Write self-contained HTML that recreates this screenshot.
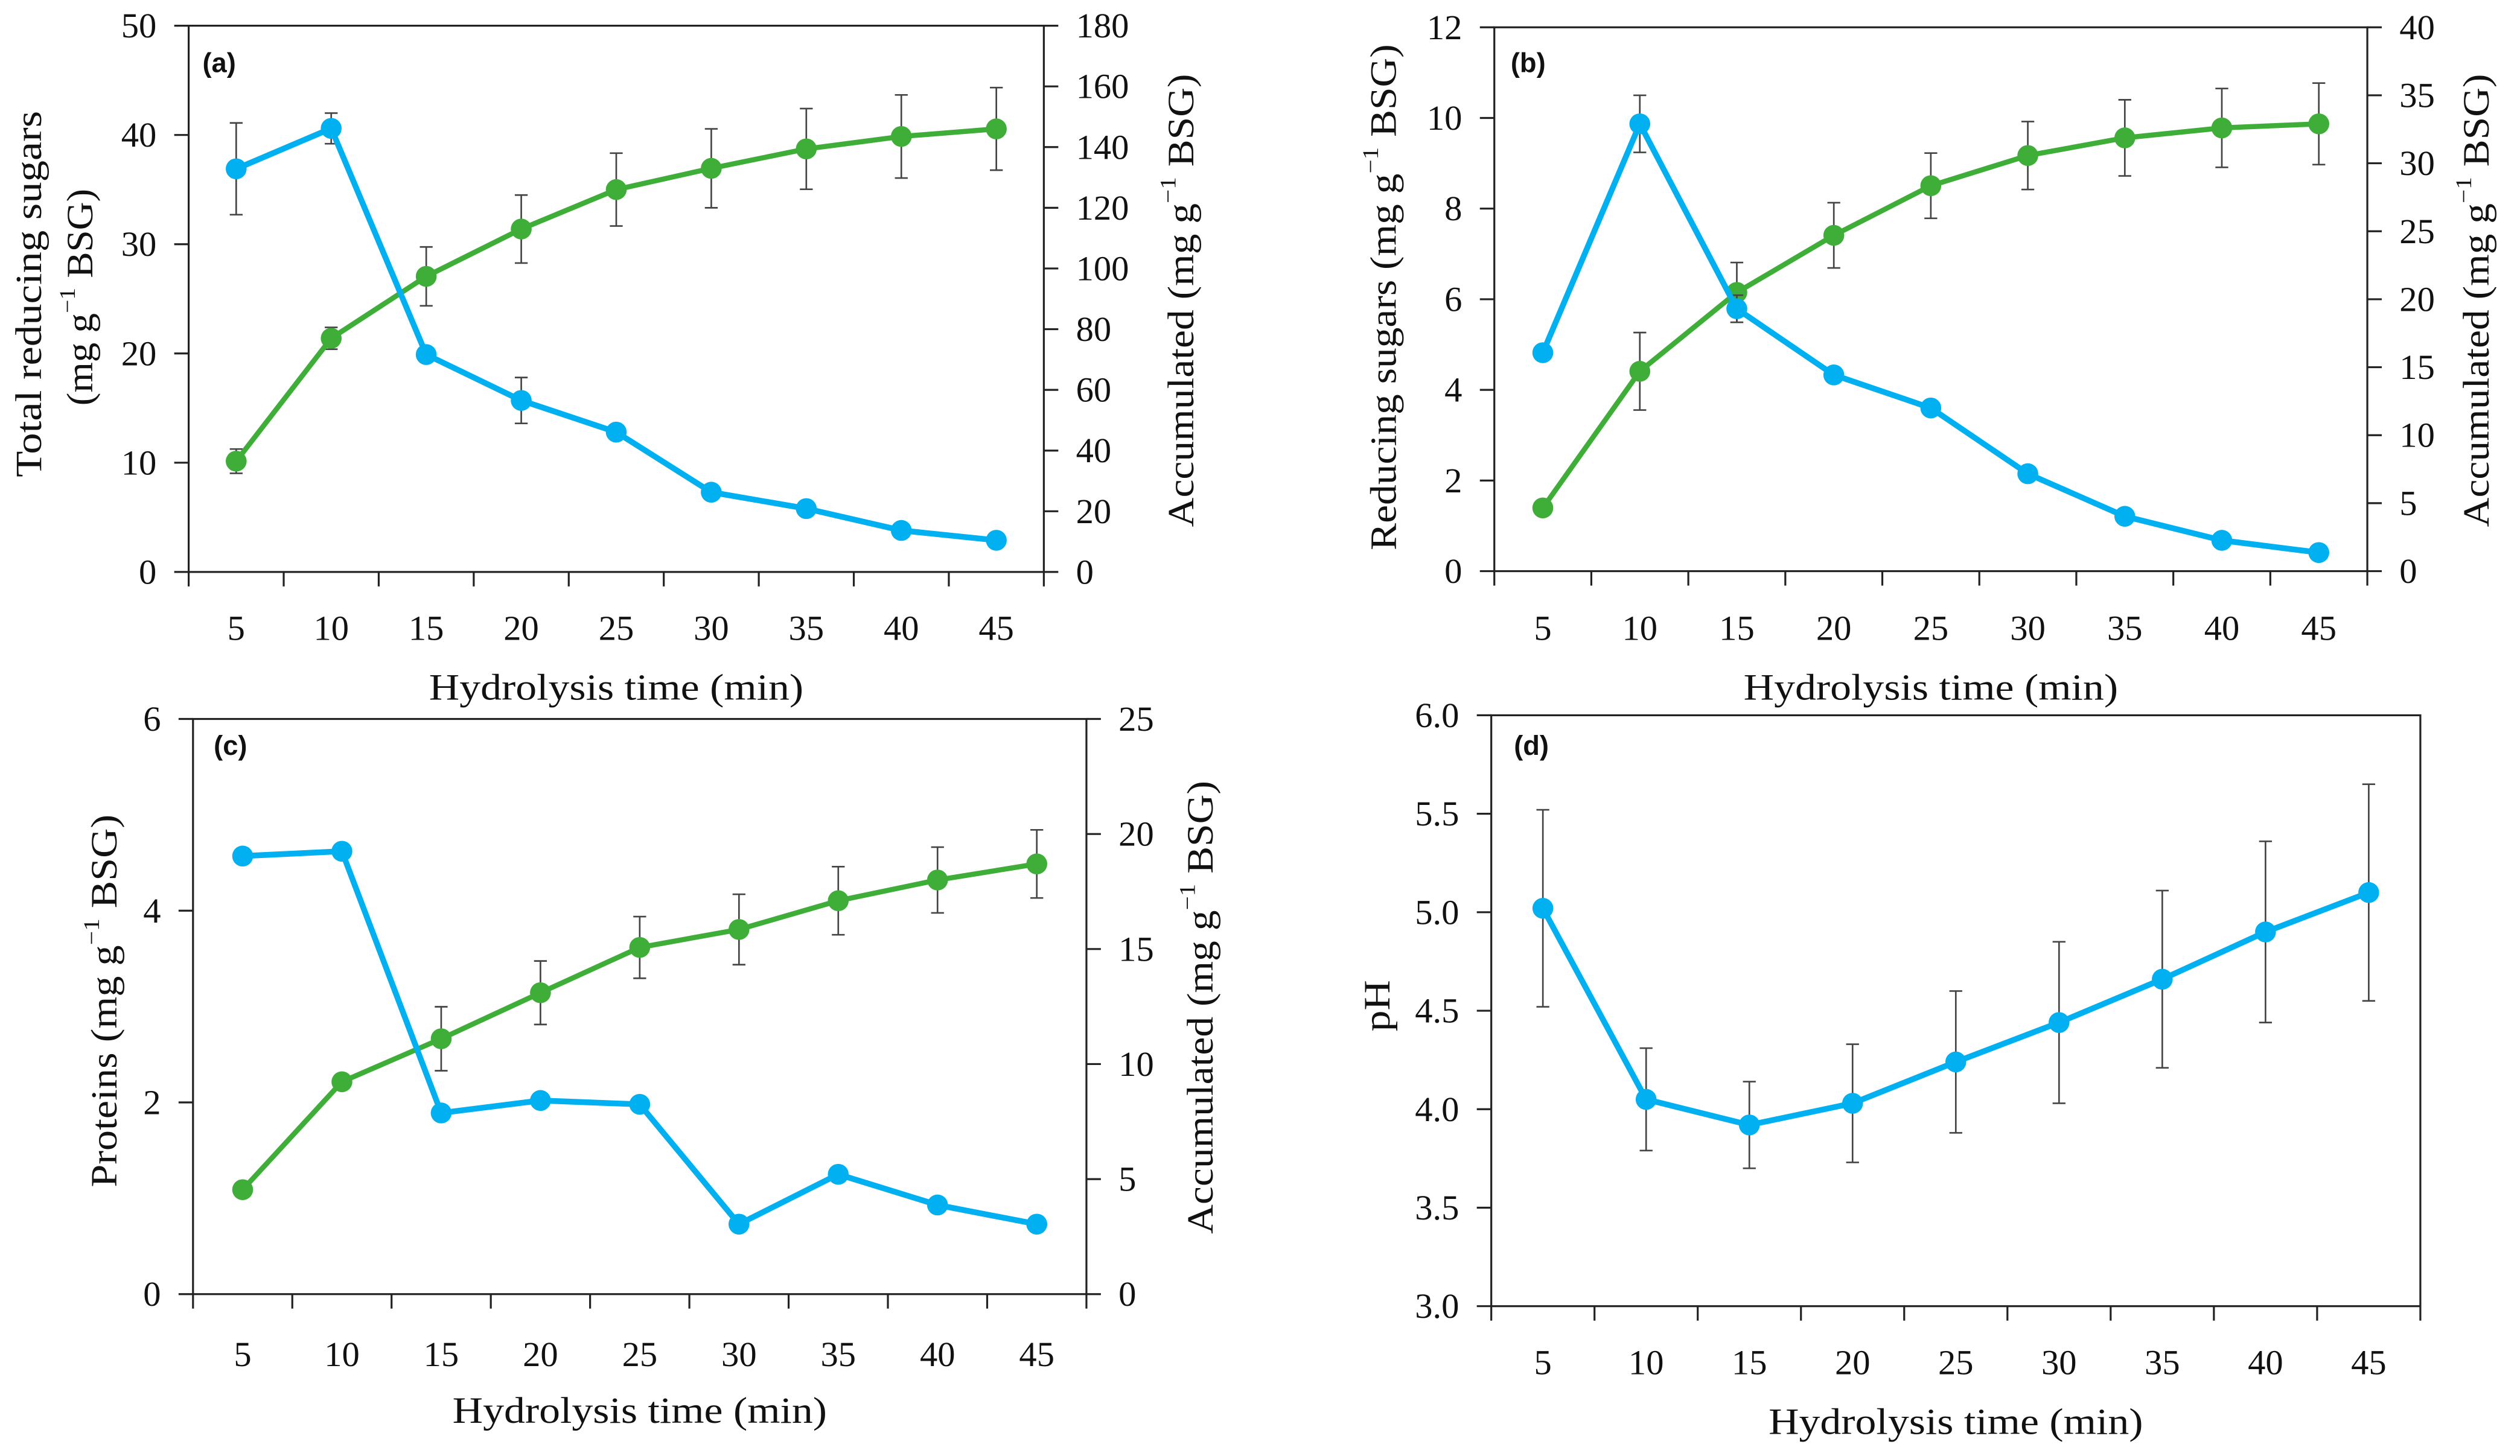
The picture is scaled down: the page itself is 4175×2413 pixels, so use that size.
<!DOCTYPE html>
<html><head><meta charset="utf-8">
<style>
html,body{margin:0;padding:0;background:#fff;}
svg{display:block;}
text{font-family:"Liberation Serif",serif;fill:#111;}
</style></head>
<body>
<svg id="fig" width="4175" height="2413" viewBox="0 0 1568 906.25" xmlns="http://www.w3.org/2000/svg"></svg>
<script>
const categories = ["5","10","15","20","25","30","35","40","45"];
// panel (a)
const aBlue = [36.9,40.6,19.9,15.7,12.8,7.3,5.8,3.8,2.9];
const aBlueErr = [4.2,1.4,0,2.1,0,0,0,0,0];
const aGreen = [36.5,77,97.4,113,126,133,139.4,143.5,146];
const aGreenErr = [4,3.6,9.7,11.2,12,13,13.3,13.7,13.6];
const aLeftTicks = [0,10,20,30,40,50];
const aRightTicks = [0,20,40,60,80,100,120,140,160,180];
// panel (b)
const bBlue = [4.82,9.87,5.79,4.33,3.6,2.15,1.21,0.68,0.41];
const bBlueErr = [0,0.63,0.3,0,0,0,0,0,0];
const bGreen = [4.65,14.7,20.5,24.7,28.35,30.57,31.87,32.6,32.9];
const bGreenErr = [0,2.85,2.2,2.4,2.4,2.5,2.8,2.9,3.0];
const bLeftTicks = [0,2,4,6,8,10,12];
const bRightTicks = [0,5,10,15,20,25,30,35,40];
// panel (c)
const cBlue = [4.57,4.62,1.89,2.02,1.98,0.73,1.25,0.93,0.73];
const cBlueErr = [0,0,0,0,0,0,0,0,0];
const cGreen = [4.54,9.23,11.1,13.1,15.07,15.85,17.1,18.0,18.7];
const cGreenErr = [0,0,1.39,1.38,1.34,1.53,1.48,1.43,1.48];
const cLeftTicks = [0,2,4,6];
const cRightTicks = [0,5,10,15,20,25];
// panel (d)
const dBlue = [5.02,4.05,3.92,4.03,4.24,4.44,4.66,4.90,5.10];
const dBlueErr = [0.5,0.26,0.22,0.3,0.36,0.41,0.45,0.46,0.55];
const dLeftTicks = ["3.0","3.5","4.0","4.5","5.0","5.5","6.0"];

const NS = "http://www.w3.org/2000/svg";
const svg = document.getElementById('fig');
const BLUE = "#00b0f0", GREEN = "#3fae38", ERR = "#444";

function mk(tag, attrs, parent) {
  const e = document.createElementNS(NS, tag);
  for (const k in attrs) e.setAttribute(k, attrs[k]);
  (parent || svg).appendChild(e);
  return e;
}

function drawPanel(p) {
  const g = mk('g', {});
  
  
  const W = p.right - p.left, n = categories.length;
  const xs = i => p.left + (i + 0.5) * W / n;
  const yL = v => p.bottom - (v - p.lmin) / (p.lmax - p.lmin) * (p.bottom - p.top);
  const yR = v => p.bottom - (v - p.rmin) / (p.rmax - p.rmin) * (p.bottom - p.top);

  const frame = mk('rect', {x:p.left, y:p.top, width:W, height:p.bottom-p.top, fill:'none', stroke:'#222', 'stroke-width':1.2}, g);
  
  

  for (let i = 0; i <= n; i++) {
    const x = p.left + i * W / n;
    const t = mk('line', {x1:x, x2:x, y1:p.bottom, y2:p.bottom + 9, stroke:'#222', 'stroke-width':1.2}, g);
    
    
  }
  categories.forEach((c, i) => {
    const t = mk('text', {x:xs(i), y:p.xLabelY, 'text-anchor':'middle', 'dominant-baseline':'central', 'font-size':22}, g);
    t.textContent = c;
    
    
  });
  const xt = mk('text', {x:(p.left + p.right) / 2, y:p.xTitleY, 'text-anchor':'middle', 'dominant-baseline':'central', 'font-size':23, textLength:233, lengthAdjust:'spacingAndGlyphs'}, g);
  xt.textContent = 'Hydrolysis time (min)';
  
  

  p.lticks.forEach(v => {
    const y = yL(parseFloat(v));
    const t = mk('line', {x1:p.left - 9, x2:p.left, y1:y, y2:y, stroke:'#222', 'stroke-width':1.2}, g);
    
    
    const l = mk('text', {x:p.left - 20, y:y, 'text-anchor':'end', 'dominant-baseline':'central', 'font-size':22}, g);
    l.textContent = v;
    
    
  });
  if (p.rticks) {
    p.rticks.forEach(v => {
      const y = yR(v);
      const t = mk('line', {x1:p.right, x2:p.right + 9, y1:y, y2:y, stroke:'#222', 'stroke-width':1.2}, g);
      
      
      const l = mk('text', {x:p.right + 20, y:y, 'text-anchor':'start', 'dominant-baseline':'central', 'font-size':22}, g);
      l.textContent = v;
      
      
    });
  }

  const pl = mk('text', {x:p.letterX, y:p.letterY, 'dominant-baseline':'central', 'font-size':17, 'font-weight':'bold', style:'font-family:"Liberation Sans",sans-serif'}, g);
  pl.textContent = '(' + p.id + ')';
  
  

  function series(vals, errs, scale, color, lw, name) {
    const sg = mk('g', {}, g);
    
    
    vals.forEach((v, i) => {
      const e = errs[i];
      if (e > 0) {
        const eg = mk('path', {d:`M${xs(i)},${scale(v+e)}V${scale(v-e)}M${xs(i)-4},${scale(v+e)}H${xs(i)+4}M${xs(i)-4},${scale(v-e)}H${xs(i)+4}`, stroke:ERR, 'stroke-width':1, fill:'none'}, sg);
        
        
      }
    });
    const pts = vals.map((v, i) => xs(i) + ',' + scale(v)).join(' ');
    const line = mk('polyline', {points:pts, fill:'none', stroke:color, 'stroke-width':lw, 'stroke-linejoin':'round'}, sg);
    
    
    vals.forEach((v, i) => {
      const c = mk('circle', {cx:xs(i), cy:scale(v), r:6.5, fill:color}, sg);
      
      
    });
  }
  if (p.green) series(p.green, p.greenErr, yR, GREEN, 3.2, 'accumulated-series');
  series(p.blue, p.blueErr, yL, BLUE, 3.6, p.blueName);

  p.titles.forEach(tt => {
    const t = mk('text', {x:0, y:0, transform:`translate(${tt.x},${tt.y}) rotate(-90)`, 'text-anchor':'middle', 'dominant-baseline':'central', 'font-size':23, textLength:tt.len, lengthAdjust:'spacingAndGlyphs'}, g);
    if (tt.sup) {
      t.appendChild(document.createTextNode(tt.pre));
      const s = mk('tspan', {'font-size':14, dy:-8}, t);
      s.textContent = '\u22121';
      const r = mk('tspan', {dy:8}, t);
      r.textContent = tt.post;
    } else {
      t.textContent = tt.pre;
    }
    
    
  });
}

drawPanel({id:'a', left:117.4, right:649.5, top:16, bottom:356, lmin:0, lmax:50, rmin:0, rmax:180,
  lticks:aLeftTicks, rticks:aRightTicks, blue:aBlue, blueErr:aBlueErr, green:aGreen, greenErr:aGreenErr,
  blueName:'total-reducing-sugars-series', xLabelY:391, xTitleY:428, letterX:126, letterY:39,
  titles:[{x:18, y:183, len:228, pre:'Total reducing sugars', name:'y-axis-title'},
          {x:50, y:185, len:135, sup:true, pre:'(mg g', post:' BSG)', name:'y-axis-title-units'},
          {x:735, y:187, len:282, sup:true, pre:'Accumulated (mg g', post:' BSG)', name:'y2-axis-title'}]});
drawPanel({id:'b', left:929.8, right:1473, top:17, bottom:355.5, lmin:0, lmax:12, rmin:0, rmax:40,
  lticks:bLeftTicks, rticks:bRightTicks, blue:bBlue, blueErr:bBlueErr, green:bGreen, greenErr:bGreenErr,
  blueName:'reducing-sugars-series', xLabelY:391, xTitleY:428, letterX:940, letterY:39,
  titles:[{x:861, y:185, len:315, sup:true, pre:'Reducing sugars (mg g', post:' BSG)', name:'y-axis-title'},
          {x:1541, y:187, len:282, sup:true, pre:'Accumulated (mg g', post:' BSG)', name:'y2-axis-title'}]});
drawPanel({id:'c', left:120.1, right:676, top:447.5, bottom:805.5, lmin:0, lmax:6, rmin:0, rmax:25,
  lticks:cLeftTicks, rticks:cRightTicks, blue:cBlue, blueErr:cBlueErr, green:cGreen, greenErr:cGreenErr,
  blueName:'proteins-series', xLabelY:843, xTitleY:878, letterX:133, letterY:464,
  titles:[{x:65, y:623, len:232, sup:true, pre:'Proteins  (mg g', post:' BSG)', name:'y-axis-title'},
          {x:747, y:627, len:282, sup:true, pre:'Accumulated (mg g', post:' BSG)', name:'y2-axis-title'}]});
drawPanel({id:'d', left:927.9, right:1506, top:445.2, bottom:813, lmin:3, lmax:6,
  lticks:dLeftTicks, rticks:null, blue:dBlue, blueErr:dBlueErr, green:null,
  blueName:'ph-series', xLabelY:848, xTitleY:885, letterX:942, letterY:464,
  titles:[{x:857, y:626, len:32, pre:'pH', name:'y-axis-title'}]});
</script>
</body></html>
